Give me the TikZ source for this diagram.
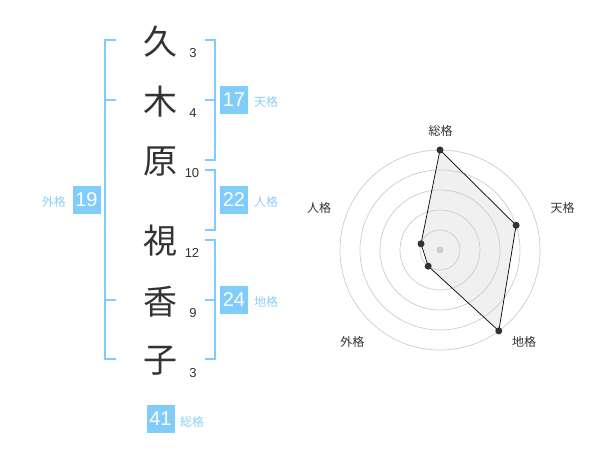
\documentclass[tikz,border=0pt]{standalone}
\usepackage{fontspec}
\setmainfont{Liberation Sans}
\newfontfamily\cjk{Noto Sans CJK JP}
\definecolor{brk}{HTML}{80CCFA}
\definecolor{lbl}{HTML}{8CCFF5}
\definecolor{txt}{HTML}{333333}
\definecolor{ring}{HTML}{CCCCCC}
\begin{document}
\begin{tikzpicture}[x=1pt,y=-1pt,
  kanji/.style={text=txt,font=\cjk\fontsize{34}{34}\selectfont,inner sep=0pt},
  strokes/.style={text=txt,font=\fontsize{13}{13}\selectfont,inner sep=0pt},
  numbox/.style={fill=brk,text=white,minimum width=28pt,minimum height=28pt,inner sep=0pt,font=\fontsize{20}{20}\selectfont},
  kaku/.style={text=lbl,font=\cjk\fontsize{12}{12}\selectfont,inner sep=0pt},
  bracket/.style={draw=brk,line width=2pt},
  rlabel/.style={text=txt,font=\cjk\fontsize{12}{12}\selectfont,inner sep=0pt},
  vdot/.style={circle,fill=txt,minimum size=7pt,inner sep=0pt},
  ringline/.style={draw=ring,line width=0.7pt}]
\useasboundingbox (0,0) rectangle (600,470);
% name characters
\node[kanji] (k1) at (160,42) {久};
\node[kanji] (k2) at (160,102) {木};
\node[kanji] (k3) at (160,162) {原};
\node[kanji] (k4) at (160,241) {視};
\node[kanji] (k5) at (160,302) {香};
\node[kanji] (k6) at (160,361) {子};
% stroke counts
\node[strokes] (s1) at (193,53) {3};
\node[strokes] (s2) at (193,113) {4};
\node[strokes] (s3) at (192,173) {10};
\node[strokes] (s4) at (192,253) {12};
\node[strokes] (s5) at (193,313) {9};
\node[strokes] (s6) at (193,373) {3};
% brackets
\draw[bracket] (116,40) -- (105,40) -- (105,359) -- (116,359);
\draw[bracket] (105,100) -- (116,100);
\draw[bracket] (105,300) -- (116,300);
\draw[bracket] (205,40) -- (215,40) -- (215,160) -- (205,160);
\draw[bracket] (205,100) -- (215,100);
\draw[bracket] (205,170) -- (215,170) -- (215,230) -- (205,230);
\draw[bracket] (205,240) -- (215,240) -- (215,359) -- (205,359);
\draw[bracket] (205,300) -- (215,300);
% boxes
\node[numbox] (b17) at (234,100) {17};
\node[kaku,anchor=west] (l17) at (254,102) {天格};
\node[numbox] (b22) at (234,200) {22};
\node[kaku,anchor=west] (l22) at (254,202) {人格};
\node[numbox] (b24) at (234,300) {24};
\node[kaku,anchor=west] (l24) at (254,302) {地格};
\node[numbox] (b19) at (86.5,200) {19};
\node[kaku,anchor=east] (l19) at (66,202) {外格};
\node[numbox] (b41) at (160.5,419) {41};
\node[kaku,anchor=west] (l41) at (180,422) {総格};
% radar
\coordinate (c) at (440,250);
\node[vdot,minimum size=3pt] (v1) at (440,150) {};
\node[vdot,minimum size=3pt] (v2) at (516.1,225.3) {};
\node[vdot,minimum size=3pt] (v3) at (498.8,330.9) {};
\node[vdot,minimum size=3pt] (v4) at (428.2,266.2) {};
\node[vdot,minimum size=3pt] (v5) at (421,243.8) {};
\fill[black!6] (v1.center) -- (v2.center) -- (v3.center) -- (v4.center) -- (v5.center) -- cycle;
\foreach \r in {20,40,60,80,100} \draw[ringline] (c) circle[radius=\r];
\fill[ring] (c) circle[radius=3.5];
\draw[black,line width=0.7pt] (v1.center) -- (v2.center) -- (v3.center) -- (v4.center) -- (v5.center) -- cycle;
\foreach \v in {v1,v2,v3,v4,v5} \fill[txt] (\v) circle[radius=3.5];
\node[rlabel] (r1) at (440.7,130.7) {総格};
\node[rlabel] (r2) at (562.7,208.3) {天格};
\node[rlabel] (r3) at (524,342) {地格};
\node[rlabel] (r4) at (352.3,342) {外格};
\node[rlabel] (r5) at (319,208) {人格};
\end{tikzpicture}
\end{document}
